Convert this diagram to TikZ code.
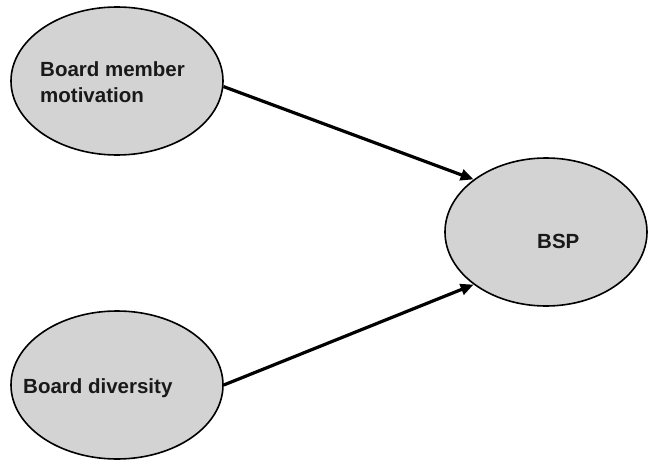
\documentclass[tikz,border=0pt]{standalone}
\usepackage{fontspec}
\setmainfont{Liberation Sans}
\usetikzlibrary{shapes.geometric,arrows.meta}
\definecolor{ellfill}{RGB}{211,211,211}
\tikzset{
  bubble/.style={ellipse,draw=black,line width=1.6pt,fill=ellfill,inner sep=0pt,
    minimum width=212pt,minimum height=148pt},
  lbl/.style={font=\fontsize{20.5}{26}\selectfont\bfseries,inner sep=0pt,text=black!90},
  link/.style={line width=3.2pt,-{Triangle[length=13pt,width=11pt]}}
}
\begin{document}
\begin{tikzpicture}[x=1pt,y=-1pt]
\useasboundingbox (0,0) rectangle (648,460);
\node[bubble] (top) at (117,81) {};
\node[bubble,minimum width=202pt] (bsp) at (546,232) {};
\node[bubble] (bot) at (117,385) {};
\node[lbl,anchor=north west,align=left] (toptxt) at (40,61) {Board member\\motivation};
\node[lbl,anchor=base west] (bsptxt) at (537,248) {BSP};
\node[lbl,anchor=base west] (bottxt) at (23,393) {Board diversity};
\draw[link] (top.-3) -- (bsp.144);
\draw[link] (bot.east) -- (bsp.216);
\end{tikzpicture}
\end{document}
